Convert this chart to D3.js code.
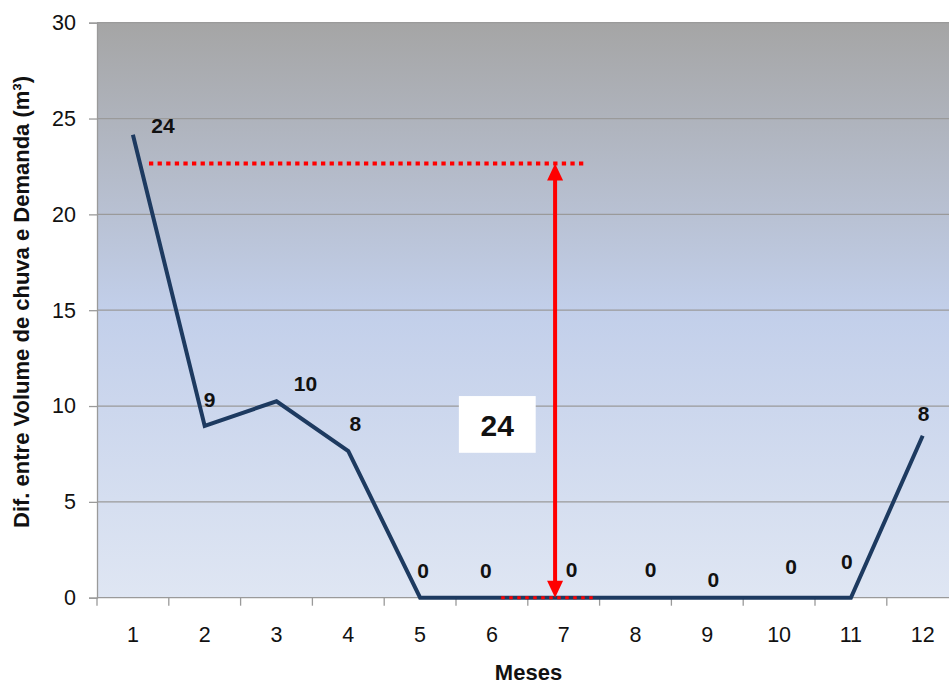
<!DOCTYPE html>
<html>
<head>
<meta charset="utf-8">
<script src="https://cdn.jsdelivr.net/npm/d3@7"></script>
<style>
  html, body { margin: 0; padding: 0; background: #ffffff; }
  svg { display: block; font-family: "Liberation Sans", Arial, sans-serif; }
</style>
</head>
<body>
<svg id="chart" width="949" height="686"></svg>
<script>
// Monthly difference between rainfall volume and demand (m³)
const months = [1, 2, 3, 4, 5, 6, 7, 8, 9, 10, 11, 12];
const difference = [24.15, 8.96, 10.25, 7.65, 0, 0, 0, 0, 0, 0, 0, 8.45];
const yTicks = [0, 5, 10, 15, 20, 25, 30];

// Label nudges (px) for each point's value text
const labelDx = [30, 5, 29, 7, 3, -6, 8, 15, 6, 12, -4, 1];
const labelDy = [-2, -19, -10, -20, -20, -20, -21, -21, -11, -24, -29, -15];

// Storage annotation: arrow spanning zero up to the storage level
const storageLevel = 22.66;
const storageLabel = d3.format(".0f")(d3.max(difference));

const margin = { left: 97, top: 22.7 };
const plotW = 861.6, plotH = 575;

const svg = d3.select("#chart");

const defs = svg.append("defs");
const grad = defs.append("linearGradient")
  .attr("id", "bg").attr("x1", 0).attr("y1", 0).attr("x2", 0).attr("y2", 1);
grad.append("stop").attr("offset", "0%").attr("stop-color", "#a5a5a5");
grad.append("stop").attr("offset", "50%").attr("stop-color", "#c2cfea");
grad.append("stop").attr("offset", "100%").attr("stop-color", "#dfe6f3");

const g = svg.append("g").attr("transform", `translate(${margin.left},${margin.top})`);

const x = d3.scaleBand().domain(months).range([0, plotW]);
const xPos = d3.scaleLinear().domain([0.5, 12.5]).range([0, plotW]);
const y = d3.scaleLinear().domain([0, 30]).range([plotH, 0]);

// Plot background
g.append("rect").attr("width", plotW).attr("height", plotH).attr("fill", "url(#bg)");

// Horizontal gridlines
g.append("g").selectAll("line").data(yTicks.filter(t => t > 0)).join("line")
  .attr("x1", 0).attr("x2", plotW)
  .attr("y1", d => y(d)).attr("y2", d => y(d))
  .attr("stroke", "#9a9a9a").attr("stroke-width", 1.3);

// Y axis
const yAxis = g.append("g")
  .call(d3.axisLeft(y).tickValues(yTicks).tickSize(8).tickPadding(13));
yAxis.select(".domain").attr("stroke", "#9a9a9a").attr("stroke-width", 1.3);
yAxis.selectAll(".tick line").attr("stroke", "#9a9a9a").attr("stroke-width", 1.3);
yAxis.selectAll(".tick text")
  .attr("font-size", 21.5).attr("fill", "#111").attr("font-family", "Liberation Sans, Arial, sans-serif");

// X axis: ticks between categories
const xAxisG = g.append("g").attr("transform", `translate(0,${plotH})`);
xAxisG.append("line").attr("x1", 0).attr("x2", plotW).attr("stroke", "#9a9a9a").attr("stroke-width", 1.3);
xAxisG.selectAll("line.tk").data(d3.range(0, months.length + 1)).join("line")
  .attr("class", "tk")
  .attr("x1", i => i * x.step()).attr("x2", i => i * x.step())
  .attr("y1", 0).attr("y2", 8)
  .attr("stroke", "#9a9a9a").attr("stroke-width", 1.3);
xAxisG.selectAll("text").data(months).join("text")
  .attr("x", d => x(d) + x.bandwidth() / 2)
  .attr("y", 44)
  .attr("text-anchor", "middle")
  .attr("font-size", 21.5).attr("fill", "#111")
  .text(d => d);

// Series line
const line = d3.line()
  .x((d, i) => x(months[i]) + x.bandwidth() / 2)
  .y(d => y(d));
g.append("path").datum(difference)
  .attr("d", line)
  .attr("fill", "none")
  .attr("stroke", "#1d3a60")
  .attr("stroke-width", 4)
  .attr("stroke-linejoin", "miter");

// Value labels
g.append("g").selectAll("text").data(difference).join("text")
  .attr("x", (d, i) => x(months[i]) + x.bandwidth() / 2 + labelDx[i])
  .attr("y", (d, i) => y(d) + labelDy[i])
  .attr("text-anchor", "middle")
  .attr("font-size", 21).attr("font-weight", "bold").attr("fill", "#111")
  .text(d => d3.format(".0f")(d));

// Storage annotation
const ann = g.append("g");
ann.append("line")
  .attr("x1", xPos(1.224)).attr("x2", xPos(7.30))
  .attr("y1", y(storageLevel)).attr("y2", y(storageLevel))
  .attr("stroke", "#ff0000").attr("stroke-width", 4)
  .attr("stroke-dasharray", "4.3 4.3");
ann.append("line")
  .attr("x1", xPos(6.13)).attr("x2", xPos(7.45))
  .attr("y1", y(0)).attr("y2", y(0))
  .attr("stroke", "#ff0000").attr("stroke-width", 3)
  .attr("stroke-dasharray", "3.5 4.5");

const ax = xPos(6.88);
ann.append("line")
  .attr("x1", ax).attr("x2", ax)
  .attr("y1", y(storageLevel) + 14).attr("y2", y(0) - 14)
  .attr("stroke", "#ff0000").attr("stroke-width", 4);
const head = (tipY, dir) => `M${ax},${tipY} L${ax - 8},${tipY + dir * 17} L${ax + 8},${tipY + dir * 17} Z`;
ann.append("path").attr("d", head(y(storageLevel), 1)).attr("fill", "#ff0000");
ann.append("path").attr("d", head(y(0), -1)).attr("fill", "#ff0000");

ann.append("rect")
  .attr("x", xPos(5.54)).attr("width", xPos(6.61) - xPos(5.54))
  .attr("y", y(10.52)).attr("height", y(7.56) - y(10.52))
  .attr("fill", "#ffffff");
ann.append("text")
  .attr("x", (xPos(5.54) + xPos(6.61)) / 2)
  .attr("y", y(7.56) - 17)
  .attr("text-anchor", "middle")
  .attr("font-size", 30).attr("font-weight", "bold").attr("fill", "#111")
  .text(storageLabel);

// Axis titles
svg.append("text")
  .attr("transform", `translate(29,302) rotate(-90)`)
  .attr("text-anchor", "middle")
  .attr("font-size", 22).attr("font-weight", "bold").attr("fill", "#111")
  .text("Dif. entre Volume de chuva e Demanda (m³)");

svg.append("text")
  .attr("x", 528.5).attr("y", 680)
  .attr("text-anchor", "middle")
  .attr("font-size", 22).attr("font-weight", "bold").attr("fill", "#111")
  .text("Meses");
</script>
</body>
</html>
